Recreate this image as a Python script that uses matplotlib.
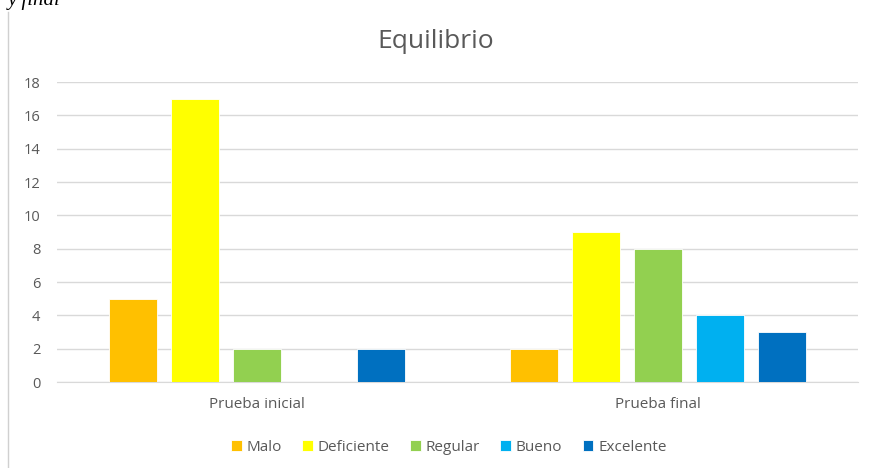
import numpy as np
import matplotlib
matplotlib.use("Agg")
import matplotlib.pyplot as plt
from matplotlib.lines import Line2D

plt.rcParams['font.family'] = ['Open Sans', 'DejaVu Sans']

pruebas = ["Prueba inicial", "Prueba final"]
niveles = ["Malo", "Deficiente", "Regular", "Bueno", "Excelente"]
malo = [5, 2]
deficiente = [17, 9]
regular = [2, 8]
bueno = [0, 4]
excelente = [2, 3]
colores = ["#FFC000", "#FFFF00", "#92D050", "#00B0F0", "#0070C0"]

series = [malo, deficiente, regular, bueno, excelente]
texto = "#595959"

fig = plt.figure(figsize=(8.69, 4.68), dpi=100)
ax = fig.add_axes([57 / 869, 86 / 468, 801 / 869, 300 / 468])

x = np.arange(len(pruebas))
ancho = 0.12
paso = 0.155
for i, (nombre, vals, c) in enumerate(zip(niveles, series, colores)):
    off = (i - 2) * paso
    ax.bar(x + off, vals, width=ancho, color=c, label=nombre,
           edgecolor="white", linewidth=0.6, zorder=3)

ax.set_xlim(-0.5, 1.5)
ax.set_ylim(0, 18)
ax.set_yticks(range(0, 19, 2))
ax.yaxis.grid(True, color="#D9D9D9", linewidth=1, zorder=0)
ax.set_xticks(x)
ax.set_xticklabels(pruebas)
ax.tick_params(axis="y", length=0, pad=12, labelsize=10.5, labelcolor=texto)
ax.tick_params(axis="x", length=0, pad=11, labelsize=11, labelcolor=texto)
for s in ["top", "right", "left"]:
    ax.spines[s].set_visible(False)
ax.spines["bottom"].set_color("#D9D9D9")

# título centrado sobre todo el cuadro del gráfico
fig.text(436 / 869, 1 - 42 / 468, "Equilibrio", fontsize=19, color=texto,
         ha="center", va="center")

ax.legend(loc="upper center", bbox_to_anchor=(0.489, -0.147), ncol=5,
          frameon=False, fontsize=11, labelcolor=texto, handlelength=0.7,
          handleheight=0.7, handletextpad=0.3, columnspacing=1.35)

# borde izquierdo del cuadro del gráfico
fig.add_artist(Line2D([8 / 869, 8 / 869], [0, 456 / 468], color="#D0D0D0", linewidth=1))
fig.text(8 / 869, 1.0, "y final", family=["Liberation Serif"], style="italic",
         fontsize=15, va="center", ha="left", color="black")

fig.savefig("out.png", dpi=100)
